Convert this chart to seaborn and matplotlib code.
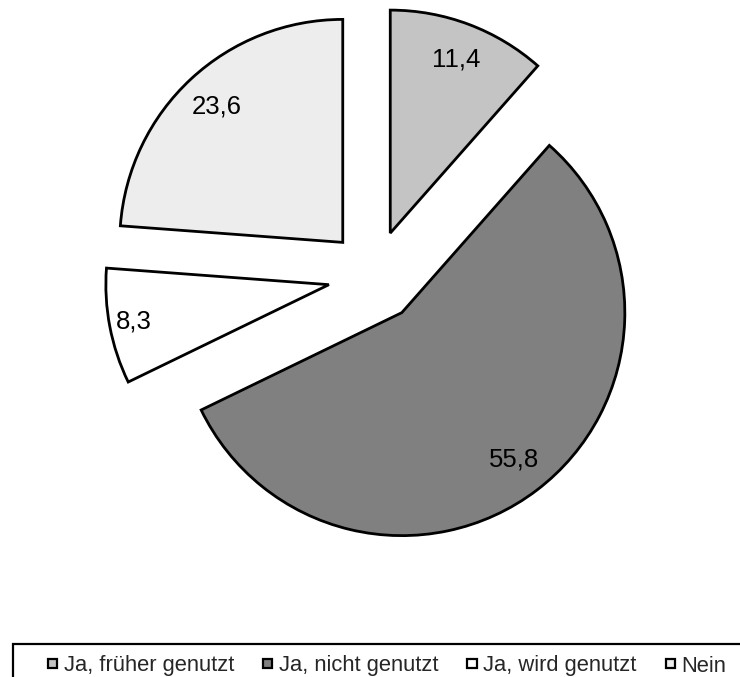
import matplotlib
matplotlib.use("Agg")
import matplotlib.pyplot as plt
import seaborn as sns
from matplotlib.patches import Patch, Rectangle


# data (percent values)
categories = ["Ja, früher genutzt", "Ja, nicht genutzt", "Ja, wird genutzt", "Nein"]
values = [11.4, 55.8, 8.3, 23.6]
value_labels = ["11,4", "55,8", "8,3", "23,6"]

# grey fills as in the original office chart
slice_colors = ["#c4c4c4", "#808080", "#ffffff", "#ededed"]

sns.set_theme(style="white")
plt.rcParams["font.family"] = ["Liberation Sans", "DejaVu Sans"]

fig = plt.figure(figsize=(7.4, 6.77), dpi=100)
ax = fig.add_axes([0, 0, 1, 1])

# every slice is pulled out of the centre by the same amount
wedges, texts, autotexts = ax.pie(
    values,
    colors=slice_colors,
    explode=[0.206] * len(values),
    startangle=90,
    counterclock=False,
    radius=1,
    autopct="%1.1f",
    pctdistance=0.83,
    wedgeprops=dict(edgecolor="black", linewidth=2.0),
)

# value labels with German decimal comma
for wedge, txt, lab in zip(wedges, autotexts, value_labels):
    txt.set_text(lab)
    txt.set_fontsize(18.5)
    txt.set_color("black")

# the small slice has its label a little further out
cx, cy = wedges[2].center
px, py = autotexts[2].get_position()
autotexts[2].set_position((cx + (px - cx) * 0.89 / 0.83, cy + (py - cy) * 0.89 / 0.83))

ax.set_xlim(-1.677, 1.641)
ax.set_ylim(-1.798, 1.238)
ax.set_aspect("auto")
ax.axis("off")

# legend at the bottom, in a box that runs off the figure edge
handles = [Patch(facecolor=c, edgecolor="black", linewidth=1.6) for c in slice_colors]
fig.legend(
    handles,
    categories,
    loc="center left",
    bbox_to_anchor=(48 / 740, 1 - 666 / 677),
    bbox_transform=fig.transFigure,
    ncol=4,
    frameon=False,
    fontsize=15.8,
    handlelength=0.42,
    handleheight=0.27,
    handletextpad=0.3,
    columnspacing=1.32,
    borderpad=0,
    borderaxespad=0,
)

fig.patches.append(
    Rectangle((13 / 740, -0.05), 1.0, 1 - 644 / 677 + 0.05,
              transform=fig.transFigure, fill=False,
              edgecolor="black", linewidth=1.6)
)

fig.savefig("out.png", dpi=100)
